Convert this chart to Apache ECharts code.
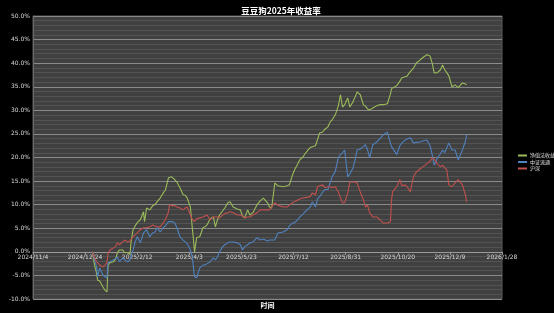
<!DOCTYPE html>
<html><head><meta charset="utf-8">
<script src="https://cdn.jsdelivr.net/npm/echarts@6/dist/echarts.min.js"></script>
<style>html,body{margin:0;padding:0;background:#000;}#c{width:554px;height:313px;}</style>
</head><body><div id="c"></div>
<script>
var titleText = '豆豆狗2025年收益率';
var seriesNames = ['净值法收益', '中证流通', '沪深'];
var axisStart = '2024-11-04';
var axisEnd = '2026-01-28';
var dates = ['2024-12-31','2025-01-02','2025-01-04','2025-01-05','2025-01-07','2025-01-10','2025-01-12','2025-01-14','2025-01-15','2025-01-17','2025-01-20','2025-01-22','2025-01-24','2025-01-26','2025-01-29','2025-01-31','2025-02-03','2025-02-05','2025-02-06','2025-02-08','2025-02-10','2025-02-12','2025-02-15','2025-02-18','2025-02-19','2025-02-21','2025-02-24','2025-02-27','2025-03-01','2025-03-03','2025-03-06','2025-03-09','2025-03-11','2025-03-14','2025-03-15','2025-03-17','2025-03-20','2025-03-22','2025-03-25','2025-03-28','2025-03-30','2025-04-01','2025-04-04','2025-04-06','2025-04-07','2025-04-08','2025-04-10','2025-04-13','2025-04-16','2025-04-18','2025-04-20','2025-04-23','2025-04-26','2025-04-28','2025-04-30','2025-05-02','2025-05-05','2025-05-07','2025-05-10','2025-05-12','2025-05-15','2025-05-19','2025-05-22','2025-05-24','2025-05-26','2025-05-29','2025-05-31','2025-06-03','2025-06-07','2025-06-10','2025-06-13','2025-06-17','2025-06-19','2025-06-21','2025-06-24','2025-06-27','2025-07-02','2025-07-06','2025-07-08','2025-07-11','2025-07-13','2025-07-16','2025-07-18','2025-07-21','2025-07-23','2025-07-26','2025-07-28','2025-07-30','2025-08-02','2025-08-04','2025-08-06','2025-08-09','2025-08-11','2025-08-14','2025-08-16','2025-08-18','2025-08-21','2025-08-24','2025-08-26','2025-08-28','2025-08-30','2025-09-02','2025-09-04','2025-09-07','2025-09-09','2025-09-11','2025-09-14','2025-09-17','2025-09-19','2025-09-21','2025-09-23','2025-09-26','2025-09-30','2025-10-03','2025-10-06','2025-10-10','2025-10-13','2025-10-14','2025-10-15','2025-10-19','2025-10-22','2025-10-24','2025-10-27','2025-10-29','2025-11-01','2025-11-04','2025-11-07','2025-11-10','2025-11-13','2025-11-17','2025-11-20','2025-11-22','2025-11-24','2025-11-27','2025-11-30','2025-12-02','2025-12-04','2025-12-06','2025-12-08','2025-12-11','2025-12-14','2025-12-17','2025-12-21','2025-12-24','2025-12-25'];
var netValue = [0,-2.8,-4.5,-6.0,-6.2,-7.4,-8.1,-8.5,-2.8,-2.3,-2.1,-1.7,-0.2,0.4,0.4,-0.2,-0.2,-0.6,1.9,4.7,5.5,6.2,6.8,8.5,6.4,9.3,8.9,9.8,10.0,10.6,11.4,12.5,13.1,15.7,15.5,15.9,15.3,14.8,13.6,12.1,12.0,11.4,9.5,4.7,2.5,0.0,3.0,3.2,5.1,5.3,5.7,7.0,7.4,5.3,6.8,7.8,8.7,9.3,10.4,10.6,9.5,9.1,8.9,7.6,7.2,8.9,7.8,8.3,10.0,10.8,11.4,10.4,9.5,9.3,14.6,14.0,13.8,14.0,14.2,16.3,17.4,18.6,19.5,20.1,20.8,21.6,22.1,22.3,22.5,23.8,25.2,25.4,26.0,26.5,27.5,28.0,29.0,31.0,33.3,30.7,31.2,32.6,30.7,31.8,32.8,33.9,33.3,31.2,30.9,30.3,30.1,30.5,31.0,31.2,31.2,31.4,33.5,34.6,34.8,35.2,36.2,36.9,37.1,37.3,38.2,38.9,40.1,40.6,41.2,41.8,41.5,40.0,37.9,38.0,38.6,39.6,38.6,38.0,37.3,35.0,35.4,34.8,35.8,35.6,35.4];
var indexA = [0,-1.7,-3.2,-5.3,-3.4,-4.9,-5.3,-5.5,-2.3,-2.1,-1.7,-1.5,-1.1,-2.1,-1.3,-1.7,-2.1,-1.7,-2.1,0.4,2.1,3.2,1.9,4.0,4.4,4.7,3.2,4.0,4.2,5.1,4.2,5.1,5.5,6.4,6.2,6.4,6.2,5.1,3.2,2.5,2.1,1.7,0.4,-1.3,-3.4,-5.3,-5.5,-3.4,-2.8,-2.8,-2.5,-2.1,-1.3,-1.7,-1.1,0,1.1,1.5,1.9,2.1,2.1,1.9,1.5,0.4,1.1,1.5,1.9,2.1,3.0,2.5,2.7,2.3,2.5,2.5,2.5,4.0,4.2,4.7,5.5,6.1,6.2,6.8,7.4,8.0,8.5,9.1,9.5,10.6,9.5,11.2,11.7,12.7,13.2,13.2,14.6,15.9,17.0,20.1,20.6,21.0,21.6,15.9,16.5,17.8,19.5,21.6,21.8,22.3,22.7,21.6,19.9,22.7,23.3,24.0,24.8,25.4,23.0,22.3,22.0,20.6,22.5,23.1,23.7,23.9,24.2,23.1,23.2,23.3,23.5,23.7,22.5,20.6,18.4,19.9,20.8,21.6,21.0,22.0,23.1,21.6,21.6,19.5,21.6,23.5,24.8];
var indexB = [0,-1.3,-2.1,-2.3,-2.8,-3.2,-2.8,-2.3,-0.2,0.4,0.8,1.1,1.9,1.5,2.1,2.5,2.1,2.3,2.5,3.2,3.6,4.0,4.7,5.1,5.1,5.1,5.3,5.7,5.5,5.3,5.3,6.2,6.8,8.5,10.0,9.8,9.8,9.5,9.3,8.9,9.3,9.5,7.8,6.8,6.6,6.4,7.0,7.2,7.4,7.6,7.8,6.8,7.4,7.4,7.4,7.2,7.8,8.1,8.3,8.5,8.3,7.8,7.8,7.6,7.2,7.4,7.4,7.8,8.3,8.9,8.9,8.9,8.9,9.5,10.4,9.9,9.5,9.5,9.9,10.4,10.6,11.0,11.2,11.4,11.5,11.6,11.7,12.5,12.1,13.8,14.0,14.2,13.6,13.8,13.8,13.6,13.8,12.7,11.4,10.4,10.4,12.5,14.8,14.8,14.8,14.6,12.7,11.0,9.5,9.9,8.3,7.4,7.4,6.8,6.1,6.1,6.4,11.0,12.7,13.8,15.3,14.0,14.2,13.8,12.7,15.9,17.0,17.5,18.0,18.7,19.2,19.9,19.7,18.6,18.0,18.4,17.8,17.4,14.2,13.8,14.6,15.3,14.2,12.0,10.6];

var DAY = 86400000;
function toUTC(s){var p=s.split('-');return Date.UTC(+p[0],+p[1]-1,+p[2]);}
var base = toUTC(axisStart);
function dayOf(s){return Math.round((toUTC(s)-base)/DAY);}
function fmtDay(d){var t=new Date(base+d*DAY);return t.getUTCFullYear()+'/'+(t.getUTCMonth()+1)+'/'+t.getUTCDate();}
function pairs(vals){return dates.map(function(d,i){return [dayOf(d), vals[i]];});}

var yMin = -10, yMax = 50;
var gridTop = 16, gridBottom = 14, H = 313;
var plotH = H - gridTop - gridBottom;
var zeroOffset = -plotH * (0 - yMin) / (yMax - yMin);

var chart = echarts.init(document.getElementById('c'), null, {renderer:'canvas'});
var lab = {color:'#d9d9d9', fontSize:6, fontFamily:'DejaVu Sans'};
chart.setOption({
  backgroundColor:'#000',
  animation:false,
  title:{text:titleText,left:276,textAlign:'center',top:2,textStyle:{color:'#fff',fontSize:8.5,fontWeight:'bold',fontFamily:'Noto Sans CJK SC'}},
  legend:{orient:'vertical',left:513,top:148,itemGap:1.5,itemWidth:9,itemHeight:2,icon:'rect',
    textStyle:{color:'#e0e0e0',fontSize:5,fontFamily:'Noto Sans CJK SC',padding:[0,0,0,-2]},data:seriesNames},
  grid:{left:33,right:52,top:gridTop,bottom:gridBottom,containLabel:false,outerBoundsMode:'none',show:true,backgroundColor:'#404040',borderColor:'#5a5a5a',borderWidth:1},
  xAxis:{type:'value',min:0,max:dayOf(axisEnd),interval:50,offset:zeroOffset,
    name:'时间',nameLocation:'middle',nameGap:50,
    nameTextStyle:{color:'#fff',fontSize:7,fontWeight:'bold',fontFamily:'Noto Sans CJK SC'},
    axisLine:{onZero:false,lineStyle:{color:'#9a9a9a',width:1}},
    axisTick:{show:true,length:3,lineStyle:{color:'#9a9a9a'}},
    axisLabel:Object.assign({formatter:fmtDay,margin:3,showMinLabel:true,showMaxLabel:true},lab),
    splitLine:{show:false}},
  yAxis:{type:'value',min:yMin,max:yMax,interval:5,
    name:'收益率',nameLocation:'middle',nameGap:24,nameRotate:90,
    nameTextStyle:{color:'#fff',fontSize:7,fontWeight:'bold',fontFamily:'Noto Sans CJK SC'},
    axisLine:{show:true,lineStyle:{color:'#6a6a6a'}},
    axisTick:{show:false},
    axisLabel:Object.assign({formatter:function(v){return v.toFixed(1)+'%';},margin:3},lab),
    splitLine:{show:true,lineStyle:{color:'#8a8a8a',width:1}},
    minorTick:{show:false,splitNumber:5},
    minorSplitLine:{show:true,lineStyle:{color:'#535353',width:1}}},
  series:[
    {name:seriesNames[0],type:'line',data:pairs(netValue),showSymbol:false,lineStyle:{color:'#9bbb59',width:1.1},itemStyle:{color:'#9bbb59'}},
    {name:seriesNames[1],type:'line',data:pairs(indexA),showSymbol:false,lineStyle:{color:'#4f81bd',width:1.1},itemStyle:{color:'#4f81bd'}},
    {name:seriesNames[2],type:'line',data:pairs(indexB),showSymbol:false,lineStyle:{color:'#c0504d',width:1.1},itemStyle:{color:'#c0504d'}}
  ]
});
</script></body></html>
